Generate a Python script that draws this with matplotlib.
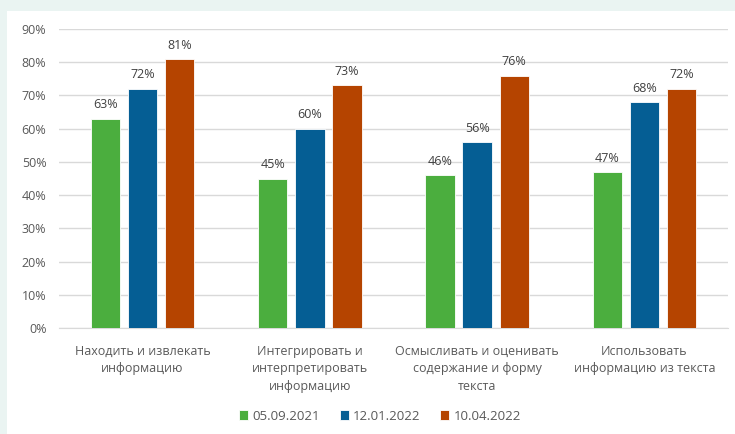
import matplotlib
matplotlib.use("Agg")
import matplotlib.pyplot as plt
import numpy as np
from matplotlib.patches import Rectangle

plt.rcParams['font.family'] = ['Open Sans', 'DejaVu Sans']

categories = ["Находить и извлекать\nинформацию",
              "Интегрировать и\nинтерпретировать\nинформацию",
              "Осмысливать и оценивать\nсодержание и форму\nтекста",
              "Использовать\nинформацию из текста"]
series_names = ["05.09.2021", "12.01.2022", "10.04.2022"]
values = [
    [63, 45, 46, 47],
    [72, 60, 56, 68],
    [81, 73, 76, 72],
]
colors = ["#4BAE3E", "#055E94", "#B54400"]
yticks = [0, 10, 20, 30, 40, 50, 60, 70, 80, 90]

fig = plt.figure(figsize=(7.35, 4.34), dpi=100)
fig.patch.set_facecolor("#EAF4F2")
fig.add_artist(Rectangle((7/735, 0), 1, 1 - 11/434, transform=fig.transFigure,
                         facecolor="white", edgecolor="none", zorder=0))

ax = fig.add_axes([59/735, 1 - 328/434, (728 - 59)/735, (328 - 29)/434])
ax.set_facecolor("none")
x = np.arange(len(categories))
w = 0.175
off = 0.222
tc = "#595959"
for i, (name, vals, c) in enumerate(zip(series_names, values, colors)):
    pos = x + (i - 1) * off
    ax.bar(pos, vals, w, color=c, label=name, zorder=3,
           edgecolor="white", linewidth=0.6)
    for p, v in zip(pos, vals):
        ax.text(p, v + 2.2, f"{v}%", ha="center", va="bottom",
                fontsize=9, color="#404040")

ax.set_xlim(-0.5, len(categories) - 0.5)
ax.set_ylim(0, 90)
ax.set_yticks(yticks)
ax.set_yticklabels([f"{t}%" for t in yticks], fontsize=9, color=tc)
ax.yaxis.grid(True, color="#D9D9D9", linewidth=1, zorder=0)
ax.set_xticks(x)
ax.set_xticklabels(categories, fontsize=9, color=tc, linespacing=1.45)
ax.tick_params(axis="both", length=0)
ax.tick_params(axis="x", pad=12)
ax.tick_params(axis="y", pad=9)
for s in ["top", "right", "left"]:
    ax.spines[s].set_visible(False)
ax.spines["bottom"].set_color("#D9D9D9")

leg = fig.legend(loc="center", bbox_to_anchor=(380/735, 1 - 416/434), ncol=3,
                 frameon=False, fontsize=9.5, handlelength=0.7, handleheight=0.7,
                 handletextpad=0.3, columnspacing=1.5)
for t in leg.get_texts():
    t.set_color(tc)

fig.savefig("out.png", dpi=100, facecolor=fig.get_facecolor())
